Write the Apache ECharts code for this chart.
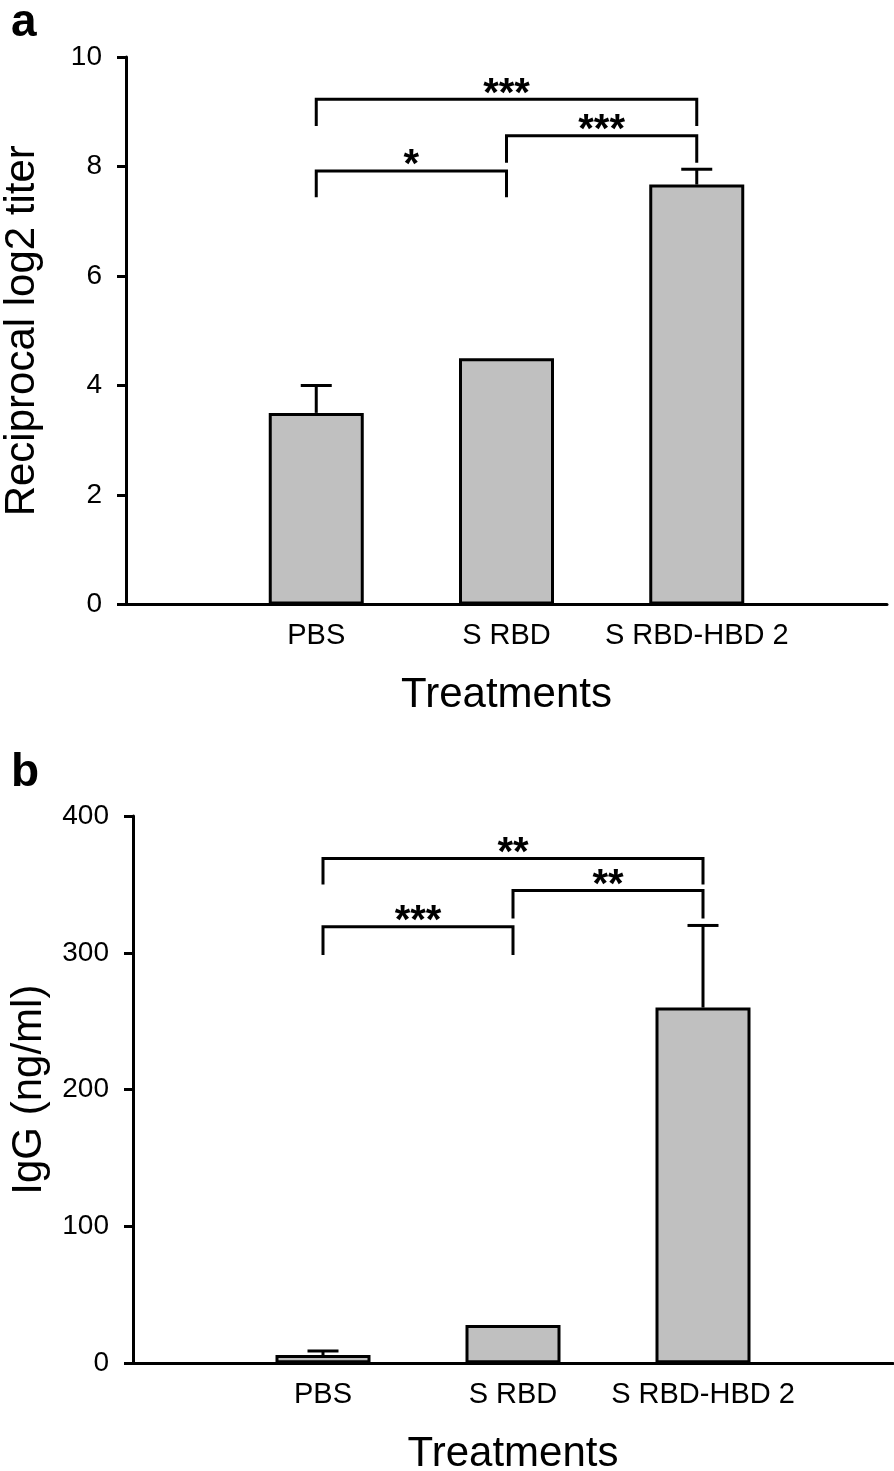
<!DOCTYPE html>
<html>
<head>
<meta charset="utf-8">
<script src="https://cdn.jsdelivr.net/npm/echarts@6/dist/echarts.min.js"></script>
<style>
html,body{margin:0;padding:0;background:#fff;}
#chart{width:894px;height:1471px;}
</style>
</head>
<body>
<div id="chart"></div>
<script>
// ---- data ----
const categories = ['PBS', 'S RBD', 'S RBD-HBD 2'];

// panel a: reciprocal log2 titer
const titerMean = [3.5, 4.5, 7.67];
const titerErrTop = [4.0, null, 7.95];
const titerTicks = [0, 2, 4, 6, 8, 10];
// brackets: [fromCategory, toCategory, topValue, legBottomValue]
const titerBrackets = [[1, 3, 9.23, 8.74], [2, 3, 8.56, 8.07], [1, 2, 7.92, 7.44]];
const titerStars = ['***', '***', '*'];

// panel b: IgG (ng/ml)
const iggMean = [6, 28, 260];
const iggErrTop = [9, null, 320];
const iggTicks = [0, 100, 200, 300, 400];
const iggBrackets = [[1, 3, 369, 350], [2, 3, 345.5, 325], [1, 2, 319, 298.5]];
const iggStars = ['**', '**', '***'];

// ---- build ----
const axisCats = [''].concat(categories, ['']);
const FONT = '"Liberation Sans", Arial, Helvetica, sans-serif';

function barData(vals) { return vals.map((v, i) => [i + 1, v]); }
function errData(means, tops) {
  const out = [];
  means.forEach((m, i) => { if (tops[i] != null) out.push([i + 1, m, tops[i]]); });
  return out;
}

function errRender(params, api) {
  const x = api.value(0), m = api.value(1), t = api.value(2);
  const p0 = api.coord([x, m]), p1 = api.coord([x, t]);
  const half = 15.5;
  return {
    type: 'group',
    children: [
      {type: 'line', shape: {x1: p0[0], y1: p0[1], x2: p1[0], y2: p1[1]}, style: {stroke: '#000', lineWidth: 3}},
      {type: 'line', shape: {x1: p1[0] - half, y1: p1[1], x2: p1[0] + half, y2: p1[1]}, style: {stroke: '#000', lineWidth: 3}}
    ]
  };
}

function bracketRender(stars) {
  return function (params, api) {
    const x1 = api.value(0), x2 = api.value(1), top = api.value(2), bot = api.value(3);
    const a = api.coord([x1, bot]), b = api.coord([x1, top]);
    const c = api.coord([x2, top]), d = api.coord([x2, bot]);
    return {
      type: 'group',
      children: [
        {type: 'polyline', shape: {points: [a, b, c, d]}, style: {stroke: '#000', lineWidth: 3, fill: null}},
        {type: 'text', style: {
          text: stars[params.dataIndex], x: (b[0] + c[0]) / 2, y: b[1] - 4.5,
          align: 'center', verticalAlign: 'middle',
          font: 'bold 40px ' + FONT, fill: '#000'
        }}
      ]
    };
  };
}

function xAxisCfg(gridIndex) {
  return {
    type: 'category', gridIndex: gridIndex, data: axisCats, boundaryGap: false,
    axisLine: {lineStyle: {color: '#000', width: 3}},
    axisTick: {show: false},
    axisLabel: {color: '#000', fontSize: 29, fontFamily: FONT, margin: 17, interval: 0},
    splitLine: {show: false},
    name: 'Treatments', nameLocation: 'middle', nameGap: 70,
    nameTextStyle: {color: '#000', fontSize: 42, fontFamily: FONT}
  };
}
function yAxisCfg(gridIndex, ticks, name) {
  return {
    type: 'value', gridIndex: gridIndex,
    min: ticks[0], max: ticks[ticks.length - 1], interval: ticks[1] - ticks[0],
    axisLine: {show: true, lineStyle: {color: '#000', width: 3}},
    axisTick: {show: true, inside: false, length: 9, lineStyle: {color: '#000', width: 3}},
    axisLabel: {color: '#000', fontSize: 28, fontFamily: FONT, margin: 24},
    splitLine: {show: false},
    name: name, nameLocation: 'middle', nameGap: 83,
    nameTextStyle: {color: '#000', fontSize: 42, fontFamily: FONT}
  };
}

const barStyle = {color: '#c0c0c0', borderColor: '#000', borderWidth: 3};

const option = {
  animation: false,
  backgroundColor: '#fff',
  grid: [
    {left: 126, top: 57, width: 761, height: 547.5, containLabel: false, outerBoundsMode: 'none'},
    {left: 133, top: 816, width: 760, height: 547.3, containLabel: false, outerBoundsMode: 'none'}
  ],
  xAxis: [xAxisCfg(0), xAxisCfg(1)],
  yAxis: [yAxisCfg(0, titerTicks, 'Reciprocal log2 titer'), yAxisCfg(1, iggTicks, 'IgG (ng/ml)')],
  graphic: [
    {type: 'text', left: 11, top: 0, style: {text: 'a', font: 'bold 46px ' + FONT, fill: '#000'}},
    {type: 'text', left: 11, top: 750, style: {text: 'b', font: 'bold 46px ' + FONT, fill: '#000'}}
  ],
  series: [
    {type: 'bar', xAxisIndex: 0, yAxisIndex: 0, data: barData(titerMean), barWidth: 95, itemStyle: barStyle, z: 2},
    {type: 'custom', xAxisIndex: 0, yAxisIndex: 0, data: errData(titerMean, titerErrTop), renderItem: errRender, z: 3},
    {type: 'custom', xAxisIndex: 0, yAxisIndex: 0, data: titerBrackets, renderItem: bracketRender(titerStars), z: 3, clip: false},
    {type: 'bar', xAxisIndex: 1, yAxisIndex: 1, data: barData(iggMean), barWidth: 95, itemStyle: barStyle, z: 2},
    {type: 'custom', xAxisIndex: 1, yAxisIndex: 1, data: errData(iggMean, iggErrTop), renderItem: errRender, z: 3},
    {type: 'custom', xAxisIndex: 1, yAxisIndex: 1, data: iggBrackets, renderItem: bracketRender(iggStars), z: 3, clip: false}
  ]
};

const chart = echarts.init(document.getElementById('chart'), null, {renderer: 'canvas'});
chart.setOption(option);
</script>
</body>
</html>
